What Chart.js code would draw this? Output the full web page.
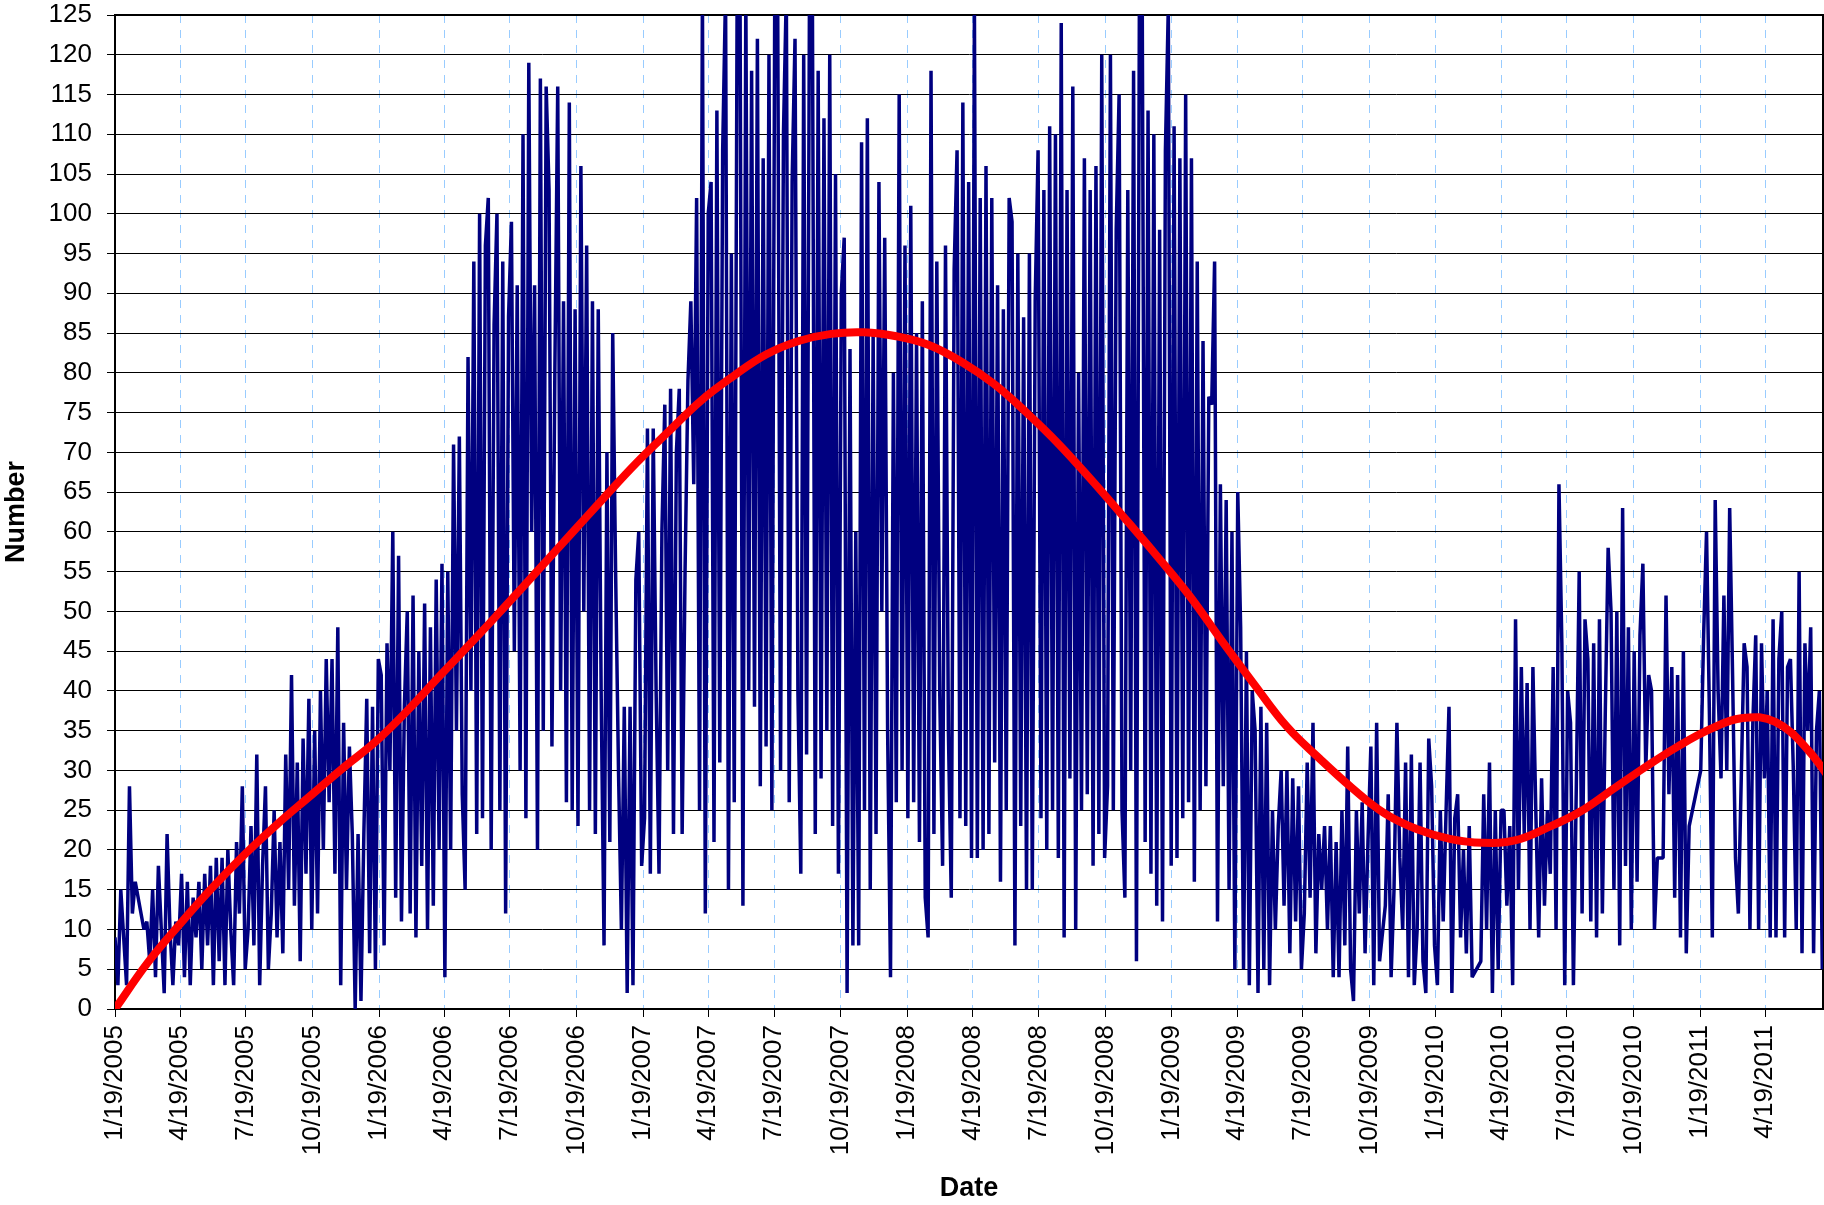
<!DOCTYPE html>
<html>
<head>
<meta charset="utf-8">
<script src="https://cdn.jsdelivr.net/npm/chart.js@4.4.1/dist/chart.umd.min.js"></script>
<style>
  html, body { margin: 0; padding: 0; background: #fff; }
</style>
</head>
<body>
<canvas id="chart" width="1824" height="1205"></canvas>
<script>
// quarter ticks on the date axis
const tickLabels = [
    "1/19/2005", "4/19/2005", "7/19/2005", "10/19/2005",
    "1/19/2006", "4/19/2006", "7/19/2006", "10/19/2006",
    "1/19/2007", "4/19/2007", "7/19/2007", "10/19/2007",
    "1/19/2008", "4/19/2008", "7/19/2008", "10/19/2008",
    "1/19/2009", "4/19/2009", "7/19/2009", "10/19/2009",
    "1/19/2010", "4/19/2010", "7/19/2010", "10/19/2010",
    "1/19/2011", "4/19/2011",
];
const startDate = "1/19/2005";
const lastDay = 2361; // ~7/8/2011, right edge of the plot
const stepDays = 4; // one reading every 4 days

// readings (null = no data, line is drawn across)
const numbers2005 = [
    9, 3, 15, 9, 3, 28, 12, 16, null, null, 10, 11, 6, 15, 4, 18, 10, 2, 22, 10, 3, 11, 8,
    17, 4, 16, 3, 14, 9, 16, 5, 17, 8, 18, 3, 19, 6, 19, 3, 20, 10, 3, 21, 12, 28, 5,
    10, 23, 8, 32, 3, 18, 28, 5, 12, 25, 9, 21, 7, 32, 15, 42, 13, 31, 6, 34, 17, 39, 10,
    35, 12, 40, 20, 44, 26, 44, 17, 48, 3, 36, 15, 33, 22, 0, 22, 1, 22, 39, 7, 38, 5, 44,
];
const numbers2006 = [
    42, 8, 46, 30, 60, 14, 57, 11, 38, 50, 12, 52, 9, 45, 18, 51, 10, 48, 13, 54, 20, 56, 4,
    55, 20, 71, 35, 72, 27, 15, 82, 40, 94, 22, 100, 24, 96, 102, 20, 86, 100, 25, 94, 12, 87,
    99, 45, 91, 30, 110, 24, 119, 60, 91, 20, 117, 35, 116, 103, 33, 80, 116, 40, 89, 26, 114, 25, 88,
    23, 106, 50, 96, 25, 89, 22, 88, 40, 8, 70, 21, 85, 55, 30, 10, 38, 2, 38, 3, 54, 60, 18,
];
const numbers2007 = [
    24, 73, 17, 73, 40, 17, 60, 76, 30, 78, 22, 70, 78, 22, 55, 79, 89, 66, 102, 25, 128, 12, 100,
    104, 21, 113, 31, 108, 128, 15, 95, 26, 128, 128, 13, 128, 40, 118, 38, 122, 28, 107, 33, 120, 25, 128,
    128, 30, 110, 128, 26, 104, 122, 40, 17, 120, 32, 128, 128, 22, 118, 29, 112, 35, 120, 23, 105, 17, 90,
    97, 2, 83, 8, 60, 8, 109, 25, 112, 15, 85, 22, 104, 50, 97, 35, 4, 80, 26, 115, 30, 96, 24,
];
const numbers2008 = [
    101, 26, 85, 21, 89, 14, 9, 118, 22, 94, 40, 18, 96, 35, 14, 93, 108, 24, 114, 23, 104, 19,
    126, 19, 102, 20, 106, 22, 102, 31, 91, 16, 88, 25, 102, 99, 8, 95, 23, 87, 15, 95, 15, 89, 108,
    24, 103, 20, 111, 25, 110, 19, 124, 9, 103, 29, 116, 10, 80, 25, 107, 27, 103, 18, 106, 22, 120, 19,
    28, 120, 25, 98, 115, 25, 14, 103, 30, 118, 6, 126, 126, 21, 113, 17, 110, 13, 98, 11, 108, 126, 18,
];
const numbers2009 = [
    111, 19, 107, 24, 115, 26, 107, 16, 94, 25, 84, 28, 77, 76, 94, 11, 66, 28, 64, 15, 60, 5, 65,
    48, 5, 45, 3, 40, 35, 2, 38, 5, 36, 3, 25, 10, 23, 30, 13, 30, 7, 29, 11, 28, 5,
    12, 31, 14, 36, 7, 22, 15, 23, 10, 23, 4, 21, 4, 25, 8, 33, 5, 1, 25, 12, 26, 7, 21,
    33, 3, 36, 6, null, 13, 27, 4, 15, 36, 19, 10, 31, 4, 32, 3, 10, 31, 6, 2, 34, 28, 8,
];
const numbers2010 = [
    3, 25, 11, 25, 38, 2, 24, 27, 9, 20, 7, 23, 4, null, null, 6, 27, 10, 31, 2, 25, 5, 25,
    25, 13, 23, 3, 49, 15, 43, 22, 41, 10, 43, 25, 9, 29, 13, 25, 17, 43, 10, 66, 46, 3, 40,
    36, 3, 28, 55, 12, 49, 44, 11, 46, 9, 49, 12, 37, 58, 50, 15, 50, 8, 63, 18, 48, 10, 45,
    16, 47, 56, 30, 42, 40, 10, 19, 19, 19, 52, 27, 43, 14, 42, 9, 45, 7, 23, null, null, null, 30,
];
const numbers2011 = [
    47, 60, 37, 9, 64, 40, 29, 52, 30, 63, 42, 19, 12, 29, 46, 43, 10, 36, 47, 10, 46, 29,
    40, 9, 49, 9, 44, 50, 9, 43, 44, 30, 10, 55, 7, 46, 35, 48, 7, 35, 40, 5,
];

// trend curve, one reading every 45 days
const trendStep = 45;
const trendValues = [
    0, 5.8, 10.7, 15.3, 19.5, 23.3, 26.8, 30.3, 33.6, 37.6,
    42, 46.3, 50.7, 55.2, 59.7, 64.2, 68.6, 72.6, 76.5, 79.6,
    82.3, 84, 84.9, 85.1, 84.6, 83.5, 81.4, 78.6, 75, 71,
    66.5, 61.8, 57, 52, 46.3, 40.8, 35.5, 31.5, 27.8, 24.6,
    22.6, 21.4, 20.9, 21.2, 22.8, 24.8, 27.6, 30.4, 33, 35.2,
    36.6, 36.1, 32.6, 27,
];

// "m/d/yyyy" -> days since the start date
const toUTC = (s) => {
    const [m, d, y] = s.split("/").map(Number);
    return Date.UTC(y, m - 1, d);
};
const toDay = (s) => Math.round((toUTC(s) - toUTC(startDate)) / 86400000);
const tickDays = tickLabels.map(toDay);

const numbers = [].concat(numbers2005, numbers2006, numbers2007, numbers2008,
    numbers2009, numbers2010, numbers2011);
const numberPoints = numbers.map((v, i) => ({ x: i * stepDays, y: v }));
const trendPoints = trendValues.map((v, i) => ({ x: i * trendStep, y: v }));

const FONT = "'Liberation Sans', Arial, sans-serif";

// black frame on top and right of the plot
const plotFrame = {
    id: "plotFrame",
    beforeDatasetsDraw(chart) {
        const { ctx, chartArea: a } = chart;
        ctx.save();
        ctx.strokeStyle = "#000";
        ctx.lineWidth = 2;
        ctx.beginPath();
        ctx.moveTo(a.left, a.top);
        ctx.lineTo(a.right, a.top);
        ctx.lineTo(a.right, a.bottom);
        ctx.stroke();
        ctx.restore();
    },
};

const ctx = document.getElementById("chart").getContext("2d");
const chart = new Chart(ctx, {
    type: "line",
    data: {
        datasets: [
            {
                label: "Number",
                data: numberPoints,
                borderColor: "#000080",
                borderWidth: 3.5,
                borderJoinStyle: "bevel",
                pointRadius: 0,
                tension: 0,
                spanGaps: true,
                clip: 0,
                order: 2,
            },
            {
                label: "Trend",
                data: trendPoints,
                borderColor: "#ff0000",
                borderWidth: 8,
                pointRadius: 0,
                tension: 0.4,
                clip: 0,
                order: 1,
            },
        ],
    },
    options: {
        responsive: false,
        animation: false,
        devicePixelRatio: 1,
        layout: { padding: { top: 15, right: 1, left: 0, bottom: 0 } },
        plugins: {
            legend: { display: false },
            tooltip: { enabled: false },
        },
        scales: {
            x: {
                type: "linear",
                min: 0,
                max: lastDay,
                afterBuildTicks: (scale) => {
                    scale.ticks = tickDays.map((d) => ({ value: d }));
                },
                afterFit: (scale) => {
                    scale.height = 196;
                },
                ticks: {
                    autoSkip: false,
                    maxRotation: 90,
                    minRotation: 90,
                    padding: 8,
                    color: "#000",
                    font: { family: FONT, size: 26, lineHeight: 1 },
                    callback: (v) => {
                        const k = tickDays.indexOf(v);
                        return k >= 0 ? tickLabels[k] : "";
                    },
                },
                grid: {
                    color: "#99ccff",
                    lineWidth: 1,
                    tickColor: "#000",
                    tickLength: 8,
                    tickBorderDash: [],
                },
                border: { color: "#000", width: 2, dash: [8, 7] },
                title: {
                    display: true,
                    text: "Date",
                    color: "#000",
                    padding: 0,
                    font: { family: FONT, size: 27, weight: "bold" },
                },
            },
            y: {
                min: 0,
                max: 125,
                afterFit: (scale) => {
                    scale.width = 115;
                    scale.paddingTop = 0;
                    scale.paddingBottom = 0;
                },
                ticks: {
                    stepSize: 5,
                    padding: 15,
                    color: "#000",
                    font: { family: FONT, size: 26, lineHeight: 1 },
                },
                grid: { color: "#000", lineWidth: 1, tickLength: 8 },
                border: { color: "#000", width: 2 },
                title: {
                    display: true,
                    text: "Number",
                    color: "#000",
                    padding: 0,
                    font: { family: FONT, size: 27, weight: "bold" },
                },
            },
        },
    },
    plugins: [plotFrame],
});
</script>
</body>
</html>
